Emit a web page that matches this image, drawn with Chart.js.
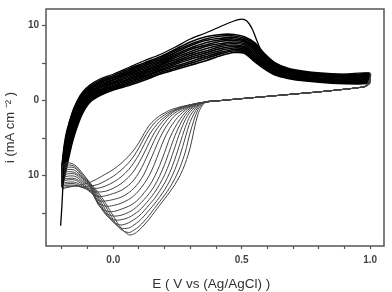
<!DOCTYPE html>
<html>
<head>
<meta charset="utf-8">
<script src="https://cdn.jsdelivr.net/npm/chart.js@4"></script>
<style>
  html, body { margin: 0; padding: 0; background: #fff; }
</style>
</head>
<body>
<canvas id="cvChart" width="392" height="292"></canvas>
<script>
// potential grid of the forward (anodic) sweeps, V vs Ag/AgCl
const fwdE = [-0.2, -0.19, -0.18, -0.16, -0.14, -0.12, -0.09, -0.05, 0.0, 0.06, 0.12, 0.18, 0.24, 0.3, 0.36, 0.42, 0.47, 0.51, 0.55, 0.59, 0.63, 0.68, 0.75, 0.85, 0.95, 1.0];

// first cycle, forward sweep (thin line with the high peak)
const firstE = [-0.205, -0.2, -0.195, -0.19, -0.18, -0.16, -0.14, -0.12, -0.09, -0.05, 0.0, 0.06, 0.12, 0.18, 0.24, 0.3, 0.36, 0.42, 0.47, 0.5, 0.52, 0.54, 0.56, 0.58, 0.61, 0.65, 0.7, 0.78, 0.88, 1.0];
const firstI = [-16.7, -14.0, -10.5, -6.6, -4.2, -1.6, 0.0, 1.1, 2.1, 2.9, 3.5, 4.4, 5.3, 6.1, 7.1, 8.2, 9.0, 9.9, 10.6, 10.85, 10.6, 9.6, 7.9, 6.3, 4.9, 4.3, 3.9, 3.6, 3.45, 3.6];

// cycles 2..14, forward sweep current (mA cm-2) on fwdE
const fwdI = [
  [-8.8, -5.8, -4.0, -1.8, -0.2, 0.9, 1.9, 2.7, 3.3, 4.2, 5.0, 5.8, 6.8, 7.8, 8.5, 8.8, 8.8, 8.5, 7.7, 6.2, 5.0, 4.3, 3.85, 3.55, 3.45, 3.6],
  [-9.0, -6.2, -4.4, -2.1, -0.5, 0.7, 1.7, 2.5, 3.1, 4.0, 4.8, 5.6, 6.6, 7.5, 8.2, 8.6, 8.6, 8.3, 7.5, 6.0, 4.9, 4.2, 3.75, 3.45, 3.35, 3.5],
  [-9.2, -6.5, -4.8, -2.4, -0.7, 0.5, 1.55, 2.4, 3.0, 3.8, 4.6, 5.4, 6.35, 7.3, 8.0, 8.3, 8.4, 8.1, 7.3, 5.9, 4.7, 4.1, 3.65, 3.35, 3.25, 3.4],
  [-9.5, -6.9, -5.2, -2.75, -1.0, 0.25, 1.4, 2.2, 2.8, 3.65, 4.4, 5.2, 6.1, 7.0, 7.7, 8.1, 8.2, 7.95, 7.1, 5.7, 4.6, 3.95, 3.55, 3.25, 3.15, 3.3],
  [-9.7, -7.3, -5.5, -3.1, -1.3, 0.05, 1.2, 2.0, 2.7, 3.5, 4.2, 5.0, 5.9, 6.8, 7.4, 7.9, 8.0, 7.8, 6.9, 5.5, 4.5, 3.85, 3.45, 3.15, 3.05, 3.2],
  [-10.0, -7.6, -5.9, -3.4, -1.5, -0.2, 1.0, 1.9, 2.5, 3.3, 4.0, 4.8, 5.7, 6.5, 7.2, 7.6, 7.8, 7.6, 6.7, 5.4, 4.3, 3.75, 3.35, 3.05, 2.95, 3.05],
  [-10.3, -8.0, -6.3, -3.7, -1.8, -0.4, 0.85, 1.7, 2.35, 3.1, 3.85, 4.65, 5.45, 6.25, 6.9, 7.4, 7.6, 7.4, 6.45, 5.2, 4.2, 3.6, 3.2, 2.9, 2.8, 2.95],
  [-10.5, -8.4, -6.7, -4.0, -2.1, -0.6, 0.7, 1.5, 2.2, 2.9, 3.65, 4.45, 5.2, 6.0, 6.6, 7.2, 7.4, 7.2, 6.25, 5.0, 4.05, 3.5, 3.1, 2.8, 2.7, 2.85],
  [-10.8, -8.7, -7.1, -4.3, -2.3, -0.85, 0.5, 1.35, 2.0, 2.75, 3.45, 4.25, 5.0, 5.75, 6.35, 6.95, 7.2, 7.05, 6.0, 4.85, 3.95, 3.4, 3.0, 2.7, 2.6, 2.75],
  [-11.0, -9.1, -7.45, -4.65, -2.6, -1.05, 0.3, 1.2, 1.85, 2.55, 3.25, 4.05, 4.8, 5.5, 6.1, 6.7, 7.0, 6.85, 5.8, 4.7, 3.8, 3.3, 2.9, 2.6, 2.5, 2.6],
  [-11.2, -9.45, -7.8, -5.0, -2.9, -1.25, 0.15, 1.05, 1.7, 2.35, 3.1, 3.9, 4.55, 5.2, 5.85, 6.45, 6.8, 6.65, 5.6, 4.55, 3.65, 3.15, 2.8, 2.5, 2.4, 2.5],
  [-11.4, -9.8, -8.2, -5.3, -3.15, -1.5, 0.0, 0.85, 1.55, 2.2, 2.9, 3.7, 4.3, 4.95, 5.6, 6.25, 6.6, 6.5, 5.4, 4.4, 3.55, 3.05, 2.7, 2.4, 2.3, 2.4],
  [-11.6, -10.2, -8.6, -5.6, -3.4, -1.7, -0.2, 0.7, 1.4, 2.0, 2.7, 3.5, 4.1, 4.7, 5.3, 6.0, 6.4, 6.3, 5.2, 4.2, 3.4, 2.95, 2.6, 2.3, 2.2, 2.3]
];

// reverse sweep, part shared by all cycles
const revE = [0.985, 0.95, 0.9, 0.8, 0.7, 0.6, 0.5, 0.42];
const revI = [1.95, 1.7, 1.5, 1.15, 0.85, 0.55, 0.25, 0.0];

// reverse sweep, cathodic part of cycles 1..14
const fanE = [0.36, 0.33, 0.30, 0.28, 0.26, 0.24, 0.22, 0.20, 0.18, 0.16, 0.14, 0.12, 0.10, 0.08, 0.06, 0.03, 0.0, -0.03, -0.06, -0.09, -0.12, -0.15, -0.18, -0.20];
const fanI = [
  [-0.2, -1.8, -6.2, -8.4, -10.0, -11.2, -12.2, -13.1, -14.0, -14.9, -15.8, -16.6, -17.3, -17.8, -17.9, -17.0, -15.4, -13.7, -12.2, -11.0, -9.7, -8.6, -8.3, -8.8],
  [-0.2, -1.2, -4.2, -6.9, -8.9, -10.4, -11.6, -12.6, -13.5, -14.4, -15.3, -16.1, -16.8, -17.3, -17.6, -17.2, -15.9, -14.1, -12.5, -11.1, -9.9, -8.8, -8.6, -9.0],
  [-0.2, -0.9, -2.8, -5.0, -7.3, -9.2, -10.7, -11.9, -12.9, -13.8, -14.6, -15.4, -16.1, -16.6, -17.0, -17.0, -16.2, -14.6, -12.8, -11.2, -10.1, -9.0, -8.9, -9.2],
  [-0.2, -0.7, -2.0, -3.6, -5.7, -7.8, -9.6, -11.0, -12.1, -13.1, -13.9, -14.7, -15.4, -15.9, -16.3, -16.6, -16.2, -15.0, -13.1, -11.3, -10.3, -9.3, -9.2, -9.5],
  [-0.2, -0.6, -1.5, -2.6, -4.2, -6.2, -8.2, -9.9, -11.2, -12.3, -13.2, -14.0, -14.7, -15.2, -15.6, -15.9, -15.9, -15.2, -13.5, -11.4, -10.4, -9.6, -9.5, -9.7],
  [-0.2, -0.5, -1.2, -2.0, -3.2, -4.7, -6.6, -8.5, -10.1, -11.4, -12.4, -13.2, -13.9, -14.5, -14.9, -15.3, -15.4, -15.0, -13.7, -11.5, -10.6, -9.8, -9.8, -10.0],
  [-0.2, -0.45, -1.0, -1.6, -2.5, -3.6, -5.0, -6.9, -8.7, -10.2, -11.4, -12.3, -13.1, -13.7, -14.1, -14.5, -14.8, -14.7, -13.8, -11.6, -10.8, -10.1, -10.1, -10.3],
  [-0.2, -0.4, -0.85, -1.3, -1.9, -2.7, -3.7, -5.0, -6.7, -8.5, -10.0, -11.1, -12.0, -12.7, -13.2, -13.7, -14.0, -14.1, -13.6, -11.9, -11.0, -10.4, -10.4, -10.5],
  [-0.2, -0.4, -0.75, -1.1, -1.5, -2.0, -2.8, -3.8, -5.1, -6.7, -8.3, -9.8, -10.9, -11.7, -12.3, -12.9, -13.2, -13.4, -13.3, -12.1, -11.2, -10.6, -10.6, -10.8],
  [-0.2, -0.38, -0.68, -0.95, -1.25, -1.65, -2.2, -3.0, -4.0, -5.3, -6.8, -8.3, -9.6, -10.6, -11.3, -12.0, -12.4, -12.7, -12.8, -12.2, -11.4, -10.9, -10.9, -11.0],
  [-0.2, -0.37, -0.63, -0.85, -1.1, -1.4, -1.9, -2.5, -3.3, -4.3, -5.6, -7.0, -8.3, -9.4, -10.2, -11.1, -11.7, -12.1, -12.2, -12.0, -11.6, -11.1, -11.1, -11.2],
  [-0.2, -0.36, -0.6, -0.8, -1.0, -1.3, -1.7, -2.2, -2.8, -3.6, -4.6, -5.9, -7.2, -8.3, -9.2, -10.2, -10.9, -11.4, -11.7, -11.7, -11.6, -11.3, -11.3, -11.4],
  [-0.2, -0.35, -0.57, -0.75, -0.95, -1.2, -1.5, -1.9, -2.4, -3.0, -3.9, -5.0, -6.3, -7.4, -8.3, -9.3, -10.1, -10.7, -11.2, -11.4, -11.5, -11.4, -11.5, -11.6],
  [-0.2, -0.35, -0.55, -0.7, -0.85, -1.05, -1.3, -1.65, -2.05, -2.6, -3.3, -4.4, -5.6, -6.6, -7.4, -8.4, -9.2, -9.8, -10.4, -10.9, -11.2, -11.4, -11.6, -11.8]
];

// axis ticks
const xTickValues = [-0.2, -0.1, 0.0, 0.1, 0.2, 0.3, 0.4, 0.5, 0.6, 0.7, 0.8, 0.9, 1.0];
const xTickLabels = ['', '', '0.0', '', '', '', '', '0.5', '', '', '', '', '1.0'];
const yTickValues = [-15, -10, -5, 0, 5, 10];
const yTickLabels = ['', '10', '', '0', '', '10'];

const FONT = "'Liberation Sans', Arial, sans-serif";
const fwdColor = '#000';
const revColor = '#444';

function toPoints(xs, ys) {
    return ys.map((y, i) => ({x: xs[i], y: y}));
}

// forward half drawn heavier than the return half
const isReverse = ctx => ctx.p1.parsed.x < ctx.p0.parsed.x;

const datasets = [];
for (let k = 0; k < fanI.length; k++) {
    const fwd = k === 0 ? toPoints(firstE, firstI) : toPoints(fwdE, fwdI[k - 1]);
    const rev = toPoints(revE, revI).concat(toPoints(fanE, fanI[k]));
    datasets.push({
        data: fwd.concat(rev),
        borderColor: fwdColor,
        borderWidth: k === 0 ? 1.3 : 1.7,
        pointRadius: 0,
        tension: 0.3,
        fill: false,
        segment: {
            borderColor: ctx => (isReverse(ctx) ? revColor : fwdColor),
            borderWidth: ctx => (isReverse(ctx) ? 1 : (k === 0 ? 1.3 : 1.7)),
        },
    });
}

// box around the plot area
const frame = {
    id: 'frame',
    afterDatasetsDraw(chart) {
        const {ctx, chartArea: a} = chart;
        ctx.save();
        ctx.strokeStyle = '#555';
        ctx.lineWidth = 1.5;
        ctx.strokeRect(a.left, a.top, a.right - a.left, a.bottom - a.top);
        ctx.restore();
    },
};

new Chart(document.getElementById('cvChart').getContext('2d'), {
    type: 'scatter',
    data: {datasets: datasets},
    options: {
        responsive: false,
        animation: false,
        showLine: true,
        layout: {padding: {left: 0, right: 8, top: 4, bottom: 0}},
        plugins: {legend: {display: false}, tooltip: {enabled: false}},
        scales: {
            x: {
                type: 'linear',
                min: -0.262,
                max: 1.054,
                afterBuildTicks: s => { s.ticks = xTickValues.map(v => ({value: v})); },
                afterFit: s => { s.height = 46; },
                ticks: {
                    autoSkip: false,
                    maxRotation: 0,
                    padding: 5,
                    color: '#444',
                    font: {family: FONT, size: 10, weight: 'bold'},
                    callback: (v, i) => xTickLabels[i],
                },
                grid: {drawOnChartArea: false, drawTicks: true, tickLength: 3, color: '#555', tickWidth: 1.2},
                border: {display: false},
                title: {
                    display: true,
                    text: 'E ( V vs (Ag/AgCl) )  ',
                    color: '#333',
                    font: {family: FONT, size: 13.5},
                    padding: {top: 4, bottom: 0},
                },
            },
            y: {
                type: 'linear',
                min: -19.4,
                max: 12.2,
                afterBuildTicks: s => { s.ticks = yTickValues.map(v => ({value: v})); },
                afterFit: s => { s.width = 46; },
                ticks: {
                    autoSkip: false,
                    padding: 3,
                    color: '#444',
                    font: {family: FONT, size: 10, weight: 'bold'},
                    callback: (v, i) => yTickLabels[i],
                },
                grid: {drawOnChartArea: false, drawTicks: true, tickLength: 4, color: '#555', tickWidth: 1.2},
                border: {display: false},
                title: {
                    display: true,
                    text: 'i (mA cm \u207B\u00B2 )',
                    color: '#333',
                    font: {family: FONT, size: 13},
                    padding: {top: 3, bottom: 0},
                },
            },
        },
    },
    plugins: [frame],
});
</script>
</body>
</html>
